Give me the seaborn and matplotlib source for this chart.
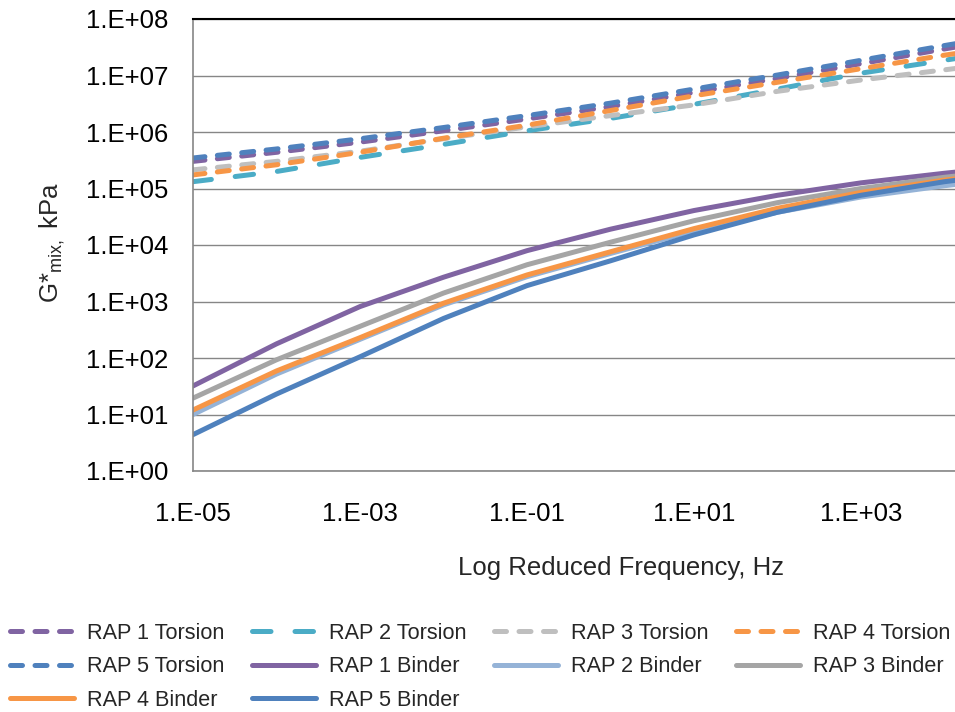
import matplotlib
matplotlib.use("Agg")
import matplotlib.pyplot as plt
from matplotlib.lines import Line2D
import seaborn as sns

# Reduced frequency (Hz), one point per decade
freq_hz = [1e-5, 1e-4, 1e-3, 1e-2, 1e-1, 1e0, 1e1, 1e2, 1e3, 1e4, 1e5]

# |G*| of the mixture from torsion tests, kPa
rap1_torsion = [302000, 437000, 661000, 1050000, 1700000, 2820000, 5010000, 8910000, 16200000, 29500000, 52500000]
rap2_torsion = [132000, 200000, 355000, 603000, 1050000, 1740000, 3090000, 5750000, 11000000, 18600000, 31600000]
rap3_torsion = [214000, 302000, 457000, 759000, 1230000, 1950000, 3020000, 5250000, 8320000, 12600000, 19100000]
rap4_torsion = [174000, 263000, 437000, 776000, 1320000, 2400000, 4370000, 7590000, 13200000, 22900000, 38000000]
rap5_torsion = [347000, 501000, 759000, 1200000, 1950000, 3240000, 5750000, 10200000, 18600000, 33900000, 60300000]

# |G*| of the mixture predicted from binder data, kPa
rap1_binder = [32, 178, 813, 2690, 7940, 19050, 40740, 75860, 125900, 186200, 263000]
rap2_binder = [10, 52, 214, 871, 2750, 7080, 17800, 38000, 70800, 112000, 166000]
rap3_binder = [19.5, 93, 363, 1410, 4470, 11200, 26900, 56200, 100000, 158000, 229000]
rap4_binder = [12, 59, 229, 933, 2950, 7590, 19500, 44700, 85100, 141000, 209000]
rap5_binder = [4.4, 23, 105, 501, 1910, 5250, 15100, 38000, 75900, 132000, 200000]

series_names = ["RAP 1 Torsion", "RAP 2 Torsion", "RAP 3 Torsion", "RAP 4 Torsion", "RAP 5 Torsion",
                "RAP 1 Binder", "RAP 2 Binder", "RAP 3 Binder", "RAP 4 Binder", "RAP 5 Binder"]
series_values = [rap1_torsion, rap2_torsion, rap3_torsion, rap4_torsion, rap5_torsion,
                 rap1_binder, rap2_binder, rap3_binder, rap4_binder, rap5_binder]

x_tick_values = [1e-5, 1e-3, 1e-1, 1e1, 1e3]
x_tick_labels = ["1.E-05", "1.E-03", "1.E-01", "1.E+01", "1.E+03"]
y_tick_values = [1e0, 1e1, 1e2, 1e3, 1e4, 1e5, 1e6, 1e7, 1e8]
y_tick_labels = ["1.E+00", "1.E+01", "1.E+02", "1.E+03", "1.E+04",
                 "1.E+05", "1.E+06", "1.E+07", "1.E+08"]

# line styling
colors = ["#8064A2", "#4BACC6", "#BFBFBF", "#F79646", "#4F81BD",
          "#8064A2", "#95B3D7", "#A5A5A5", "#F79646", "#4F81BD"]
short_dash = (2.4, 2.5)
long_dash = (3.7, 4.8)
dashes = [short_dash, long_dash, short_dash, short_dash, short_dash,
          None, None, None, None, None]
LW = 3.6

sns.set_theme(style="white")
plt.rcParams["font.family"] = ["Liberation Sans", "DejaVu Sans"]
plt.rcParams["mathtext.fontset"] = "custom"
plt.rcParams["mathtext.rm"] = "Liberation Sans"
plt.rcParams["mathtext.it"] = "Liberation Sans:italic"

fig = plt.figure(figsize=(9.55, 7.12), dpi=100)
ax = fig.add_axes([193 / 955, 241 / 712, 762 / 955, 452 / 712])
ax.set_xscale("log")
ax.set_yscale("log")

handles = {}
for name, vals, color, dash in zip(series_names, series_values, colors, dashes):
    sns.lineplot(x=freq_hz, y=vals, ax=ax, color=color, linewidth=LW,
                 estimator=None, sort=False, legend=False)
    line = ax.lines[-1]
    line.set_solid_capstyle("round")
    line.set_dash_capstyle("round")
    if dash is not None:
        line.set_dashes(dash)
    h = Line2D([], [], color=color, linewidth=LW, solid_capstyle="round",
               dash_capstyle="round")
    if dash is not None:
        h.set_dashes(dash)
    handles[name] = h

ax.set_xlim(1e-5, 10 ** (-5 + 762 / 83.5))
ax.set_ylim(1e0, 1e8)
ax.set_xticks(x_tick_values, x_tick_labels)
ax.set_yticks(y_tick_values, y_tick_labels)
ax.minorticks_off()
ax.tick_params(axis="both", length=0, labelsize=18.5, colors="black")
ax.tick_params(axis="y", pad=18)
ax.tick_params(axis="x", pad=22.5)

ax.yaxis.grid(True, color="#868686", linewidth=1.0)
ax.xaxis.grid(False)
ax.set_axisbelow(True)
for side in ("left", "bottom"):
    ax.spines[side].set_color("#868686")
    ax.spines[side].set_linewidth(1.2)
ax.spines["top"].set_color("black")
ax.spines["top"].set_linewidth(1.5)
ax.spines["right"].set_visible(False)

ax.set_xlabel("Log Reduced Frequency, Hz", fontsize=18.5)
ax.xaxis.label.set_va("center")
ax.xaxis.set_label_coords((621 - 193) / 762, -(568 - 471) / 452)
ax.set_ylabel(r"G*$_{\mathregular{mix,}}$ kPa", fontsize=18.5)
ax.yaxis.label.set_va("center")
ax.yaxis.label.set_ha("center")
ax.yaxis.set_label_coords((52 - 193) / 762, (471 - 243) / 452)

legend_order = ["RAP 1 Torsion", "RAP 5 Torsion", "RAP 4 Binder",
                "RAP 2 Torsion", "RAP 1 Binder", "RAP 5 Binder",
                "RAP 3 Torsion", "RAP 2 Binder",
                "RAP 4 Torsion", "RAP 3 Binder"]
fig.legend([handles[n] for n in legend_order], legend_order,
           ncol=4, loc="upper left", bbox_to_anchor=(10 / 955, (712 - 623) / 712),
           frameon=False, fontsize=15.6, handlelength=2.95, handletextpad=0.6,
           columnspacing=1.27, labelspacing=0.57, borderpad=0, borderaxespad=0)

fig.savefig("out.png", dpi=100)
